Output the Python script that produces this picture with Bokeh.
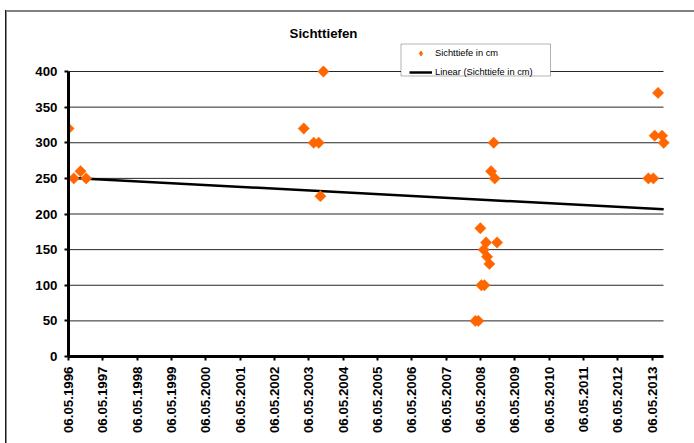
from datetime import datetime

import numpy as np
from bokeh.embed import file_html
from bokeh.models import (BoxAnnotation, ColumnDataSource, DatetimeTickFormatter,
                          FixedTicker, Label, Legend, LegendItem, Range1d)
from bokeh.plotting import figure
from bokeh.resources import INLINE

# Secchi depth readings (Sichttiefe) in cm, by sampling date
sample_dates = [
    "1996-05-06", "1996-07-01", "1996-09-11", "1996-11-10",
    "2003-03-13", "2003-06-27", "2003-08-19", "2003-09-06", "2003-10-08",
    "2008-03-11", "2008-04-12", "2008-05-03", "2008-05-14", "2008-06-15",
    "2008-06-08", "2008-07-03", "2008-07-14", "2008-08-07", "2008-08-25",
    "2008-09-22", "2008-10-03", "2008-10-28",
    "2013-03-25", "2013-05-17", "2013-05-31", "2013-07-06", "2013-08-18",
    "2013-09-04",
]
depth_cm = [
    320, 250, 260, 250,
    320, 300, 300, 225, 400,
    50, 50, 180, 100, 100,
    150, 160, 140, 130, 260,
    300, 250, 160,
    250, 250, 310, 370, 310,
    300,
]

# Linear trend line (start and end of the data period)
trend_dates = ["1996-05-06", "2013-09-04"]
trend_cm = [251, 206.5]

# Axis layout
tick_years = list(range(1996, 2014))
y_ticks = [0, 50, 100, 150, 200, 250, 300, 350, 400]
axis_start = "1996-05-06"
axis_end = "2013-09-02"
y_min, y_max = 0, 400

FONT = "Liberation Sans"
ORANGE = "#FF6600"

W, H = 694, 443
# drawing frame and the plot area inside it, in canvas pixels
FRAME_L, FRAME_R, FRAME_T, FRAME_B = 68, W, 0, 356
PLOT_L, PLOT_R, PLOT_T, PLOT_B = 68, 663, 71, 356


def to_dt(s):
    return datetime.strptime(s, "%Y-%m-%d")


def to_ms(d):
    return (d - datetime(1970, 1, 1)).total_seconds() * 1000.0


x0, x1 = to_ms(to_dt(axis_start)), to_ms(to_dt(axis_end))
ms_per_px = (x1 - x0) / (PLOT_R - PLOT_L)
u_per_px = (y_max - y_min) / (PLOT_B - PLOT_T)
x_range = Range1d(x0 - (PLOT_L - FRAME_L) * ms_per_px, x1 + (FRAME_R - PLOT_R) * ms_per_px)
y_range = Range1d(y_min - (FRAME_B - PLOT_B) * u_per_px, y_max + (PLOT_T - FRAME_T) * u_per_px)

src = ColumnDataSource(dict(date=[to_dt(d) for d in sample_dates], depth=depth_cm))
trend_src = ColumnDataSource(dict(date=[to_dt(d) for d in trend_dates], depth=trend_cm))
grid_src = ColumnDataSource(dict(x0=[x0] * len(y_ticks), x1=[x1] * len(y_ticks), y=y_ticks))

p = figure(
    width=W, height=H, title=None,
    x_axis_type="datetime", x_range=x_range, y_range=y_range,
    output_backend="svg", toolbar_location=None,
    min_border_left=FRAME_L, min_border_right=W - FRAME_R,
    min_border_top=FRAME_T, min_border_bottom=H - FRAME_B,
    background_fill_color=None, border_fill_color=None,
)
p.outline_line_color = None
p.xgrid.visible = False
p.ygrid.visible = False

# chart-area frame lines (top and left edge) behind the canvas
p.styles = {
    "background": (
        "linear-gradient(#808080, #808080) 6px 10px / 688px 2px no-repeat, "
        "linear-gradient(#1a1a1a, #1a1a1a) 5px 10px / 1.5px 433px no-repeat, white"
    )
}

# horizontal gridlines at the y ticks
p.segment(x0="x0", x1="x1", y0="y", y1="y", source=grid_src,
          line_color="black", line_width=1, line_alpha=0.85, level="underlay")

# y axis
p.yaxis.bounds = (y_min, y_max)
p.yaxis.ticker = FixedTicker(ticks=y_ticks)
p.yaxis.axis_line_width = 3
p.yaxis.axis_line_color = "black"
p.yaxis.major_tick_out = 4
p.yaxis.major_tick_in = 0
p.yaxis.major_tick_line_width = 2
p.yaxis.minor_tick_line_color = None
p.yaxis.major_label_standoff = 7
p.yaxis.major_label_text_font = FONT
p.yaxis.major_label_text_font_style = "bold"
p.yaxis.major_label_text_font_size = "13.3px"
p.yaxis.major_label_text_color = "black"

# x axis: one tick per year on 06.05.
fmt = "%d.%m.%Y"
p.xaxis.bounds = (x0, x1)
p.xaxis.ticker = FixedTicker(ticks=[to_ms(datetime(y, 5, 6)) for y in tick_years])
p.xaxis.formatter = DatetimeTickFormatter(
    microseconds=fmt, milliseconds=fmt, seconds=fmt, minsec=fmt, minutes=fmt,
    hourmin=fmt, hours=fmt, days=fmt, months=fmt, years=fmt,
)
p.xaxis.major_label_orientation = np.pi / 2
p.xaxis.axis_line_width = 3
p.xaxis.axis_line_color = "black"
p.xaxis.major_tick_out = 4
p.xaxis.major_tick_in = 0
p.xaxis.major_tick_line_width = 2
p.xaxis.minor_tick_line_color = None
p.xaxis.major_label_standoff = 6
p.xaxis.major_label_text_font = FONT
p.xaxis.major_label_text_font_style = "bold"
p.xaxis.major_label_text_font_size = "13.3px"
p.xaxis.major_label_text_color = "black"

# data and trend
r_trend = p.line("date", "depth", source=trend_src, line_color="black", line_width=2.5)
r_pts = p.scatter("date", "depth", source=src, marker="square", angle=np.pi / 4,
                  size=8, fill_color=ORANGE, line_color=ORANGE, line_width=0.5)
# legend swatch for the point series: same data as a diamond marker, kept hidden
r_key = p.scatter("date", "depth", source=src, marker="diamond", size=8,
                  fill_color=ORANGE, line_color=ORANGE, visible=False)

# legend box
p.add_layout(BoxAnnotation(left=400.5 - FRAME_L, right=550 - FRAME_L,
                           top=FRAME_B - 43.5, bottom=FRAME_B - 75.5,
                           left_units="screen", right_units="screen",
                           top_units="screen", bottom_units="screen",
                           fill_color="white", fill_alpha=1,
                           line_color="black", line_width=1))

legend = Legend(
    items=[LegendItem(label="Sichttiefe in cm", renderers=[r_key]),
           LegendItem(label="Linear (Sichttiefe in cm)", renderers=[r_trend])],
    location=(409 - FRAME_L, FRAME_B - 77.5),
    padding=0, margin=0, spacing=7,
    glyph_width=23, glyph_height=12, label_height=12, label_standoff=3,
    label_text_font=FONT, label_text_font_size="9.3px", label_text_color="black",
    border_line_alpha=0, background_fill_alpha=0,
)
p.add_layout(legend, "center")

# title
p.add_layout(Label(x=323 - FRAME_L, y=FRAME_B - 33, x_units="screen", y_units="screen",
                   text="Sichttiefen", text_align="center", text_baseline="middle",
                   text_font=FONT, text_font_style="bold", text_font_size="13.3px",
                   text_color="black"))

open("out.html", "w").write(file_html(p, INLINE))
